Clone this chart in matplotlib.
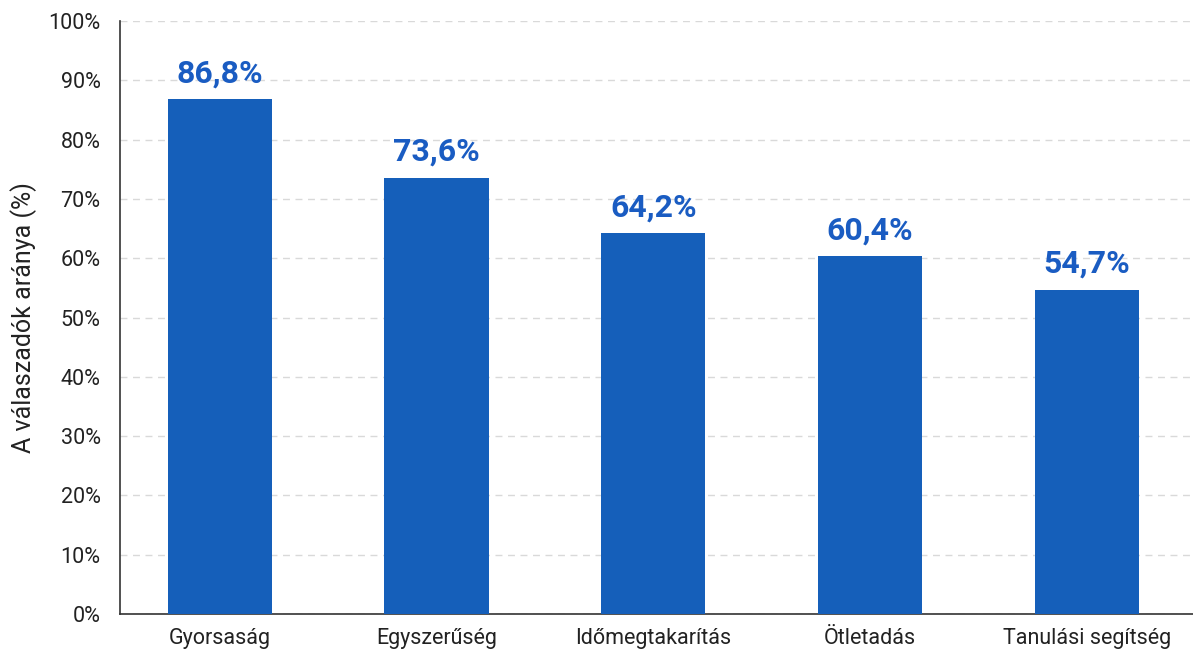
import matplotlib
matplotlib.use("Agg")
import matplotlib.pyplot as plt
from matplotlib.ticker import FuncFormatter

plt.rcParams['font.family'] = ['Roboto', 'DejaVu Sans']

categories = ["Gyorsaság", "Egyszerűség", "Időmegtakarítás", "Ötletadás", "Tanulási segítség"]
values = [86.8, 73.6, 64.2, 60.4, 54.7]
value_labels = ["86,8%", "73,6%", "64,2%", "60,4%", "54,7%"]

bar_color = "#155FBA"
label_color = "#1A5CC2"

fig = plt.figure(figsize=(11.93, 6.53), dpi=100)
ax = fig.add_axes([0.1006, 0.0597, 0.8994, 0.908])

x = range(len(categories))
bars = ax.bar(x, values, width=0.48, color=bar_color, zorder=3)

for b, lab in zip(bars, value_labels):
    ax.text(b.get_x() + b.get_width() / 2, b.get_height() + 1.8, lab,
            ha="center", va="bottom", fontsize=23, fontweight="bold", color=label_color)

ax.set_xlim(-0.46, 4.49)
ax.set_ylim(0, 100)
ax.set_yticks(range(0, 101, 10))
ax.yaxis.set_major_formatter(FuncFormatter(lambda v, p: "%d%%" % v))
ax.set_xticks(list(x))
ax.set_xticklabels(categories)
ax.tick_params(axis="both", length=0, labelsize=15.5, colors="#222222")
ax.tick_params(axis="x", pad=10)
ax.tick_params(axis="y", pad=14)
ax.set_ylabel("A válaszadók aránya (%)", fontsize=18, color="#222222", labelpad=8)

ax.grid(axis="y", linestyle=(0, (5, 4)), color="#d9d9d9", linewidth=1, zorder=0)
ax.spines["top"].set_visible(False)
ax.spines["right"].set_visible(False)
ax.spines["left"].set_color("#333333")
ax.spines["bottom"].set_color("#333333")
ax.spines["left"].set_linewidth(1.2)
ax.spines["bottom"].set_linewidth(1.2)

fig.savefig("out.png", dpi=100)
